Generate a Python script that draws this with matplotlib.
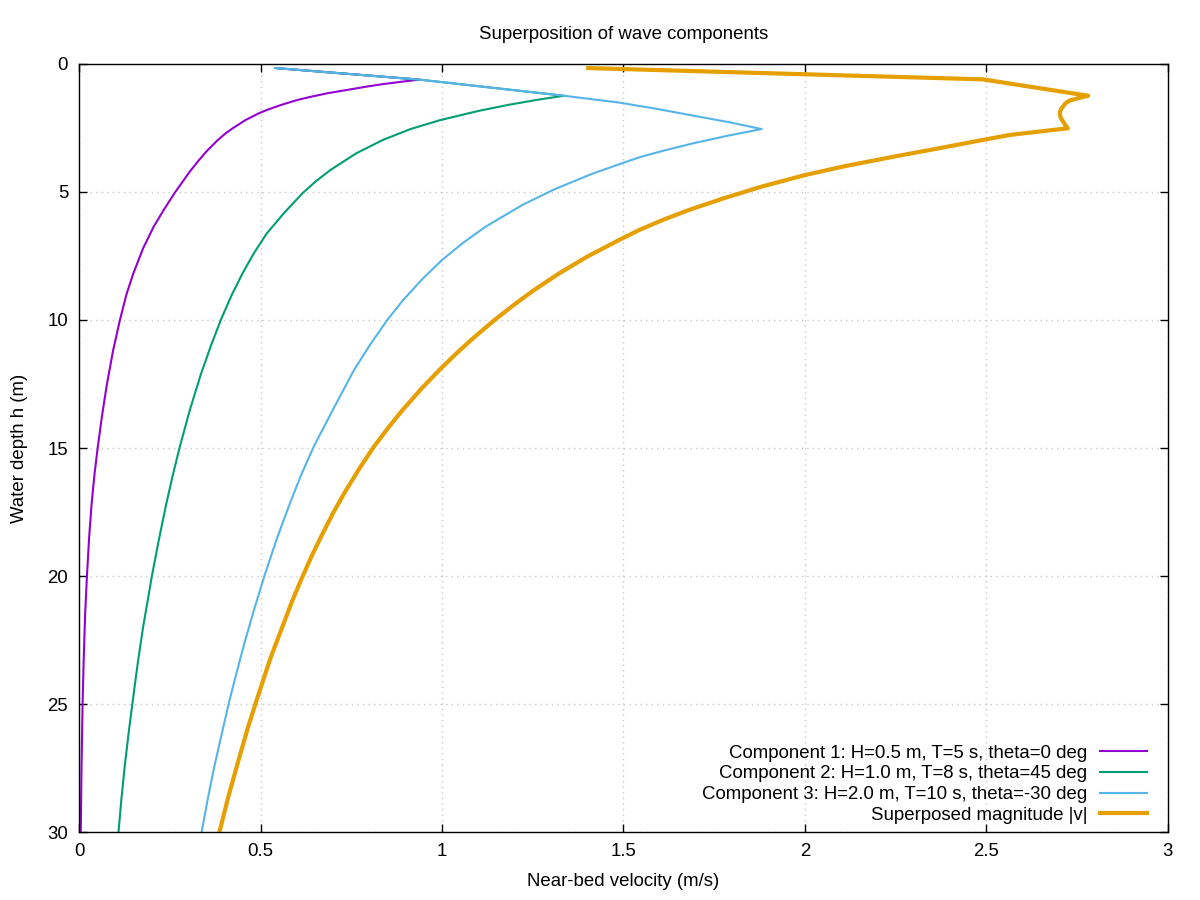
import matplotlib
matplotlib.use('Agg')
import matplotlib.pyplot as plt

# values: depth h (m) and near-bed velocity (m/s)
c1_depth = [0.17, 0.62, 0.70, 0.80, 0.90, 1.00, 1.15, 1.30, 1.42, 1.60, 1.80, 1.94, 2.20,
            2.50, 2.72, 3.00, 3.40, 3.76, 4.20, 4.60, 5.06, 5.70, 6.36, 7.20, 8.18, 9.0,
            10.0, 11.2, 12.6, 13.8, 14.95, 16.0, 17.16, 18.5, 20.0, 21.5, 23.3, 25.0,
            27.5, 30.0]
c1_vel = [0.541, 0.937, 0.890, 0.835, 0.789, 0.748, 0.685, 0.635, 0.600, 0.558, 0.518, 0.494, 0.458,
          0.425, 0.403, 0.380, 0.352, 0.330, 0.305, 0.285, 0.262, 0.233, 0.205, 0.176, 0.149, 0.130,
          0.112, 0.093, 0.075, 0.062, 0.051, 0.042, 0.034, 0.027, 0.021, 0.016, 0.012, 0.009,
          0.006, 0.004]

c2_depth = [0.17, 0.62, 1.25, 1.40, 1.61, 1.85, 2.20, 2.55, 2.98, 3.50, 4.15, 4.60, 5.06,
            5.80, 6.62, 7.40, 8.18, 9.0, 10.0, 11.0, 12.08, 13.5, 14.95, 16.1, 17.29, 18.6,
            20.0, 21.0, 21.97, 23.3, 24.57, 26.0, 27.44, 28.7, 30.0]
c2_vel = [0.541, 0.937, 1.336, 1.266, 1.181, 1.098, 0.995, 0.913, 0.836, 0.763, 0.692, 0.651, 0.615,
          0.566, 0.517, 0.481, 0.450, 0.421, 0.390, 0.363, 0.336, 0.305, 0.277, 0.257, 0.238, 0.219,
          0.200, 0.188, 0.176, 0.162, 0.150, 0.137, 0.125, 0.116, 0.108]

c3_depth = [0.17, 0.62, 1.25, 1.52, 1.77, 2.02, 2.28, 2.55, 2.80, 3.11, 3.40, 3.63, 3.89,
            4.30, 4.90, 5.50, 6.36, 7.00, 7.66, 8.40, 9.22, 10.0, 11.0, 11.96, 13.4, 14.95,
            16.1, 17.29, 18.6, 20.0, 21.3, 22.62, 23.8, 24.96, 26.2, 27.44, 28.7, 30.0]
c3_vel = [0.541, 0.937, 1.336, 1.490, 1.595, 1.690, 1.790, 1.881, 1.791, 1.691, 1.609, 1.549, 1.495,
          1.413, 1.310, 1.223, 1.120, 1.057, 1.000, 0.946, 0.893, 0.849, 0.800, 0.757, 0.703, 0.646,
          0.610, 0.577, 0.543, 0.510, 0.482, 0.455, 0.433, 0.412, 0.392, 0.372, 0.354, 0.337]

sup_depth = [0.17, 0.61, 1.25, 1.35, 1.44, 1.55, 1.74, 1.88, 2.0, 2.13, 2.26, 2.40, 2.52,
             2.78, 2.95, 3.30, 3.63, 4.00, 4.34, 4.80, 5.25, 5.70, 6.10, 6.50, 6.88, 7.53,
             8.20, 8.83, 9.40, 10.0, 10.72, 11.3, 11.96, 12.7, 13.52, 14.2, 14.95, 15.8,
             16.77, 17.5, 18.33, 19.2, 20.09, 21.0, 21.97, 23.2, 24.57, 25.9, 27.18, 28.6, 30.0]
sup_vel = [1.403, 2.490, 2.781, 2.752, 2.730, 2.718, 2.708, 2.703, 2.703, 2.706, 2.712, 2.718, 2.725,
           2.565, 2.500, 2.370, 2.244, 2.110, 2.002, 1.880, 1.777, 1.682, 1.608, 1.542, 1.488, 1.400,
           1.321, 1.254, 1.199, 1.145, 1.085, 1.040, 0.992, 0.942, 0.891, 0.852, 0.812, 0.772,
           0.730, 0.701, 0.671, 0.641, 0.613, 0.586, 0.560, 0.527, 0.495, 0.465, 0.439, 0.411, 0.386]

labels = ['Component 1: H=0.5 m, T=5 s, theta=0 deg',
          'Component 2: H=1.0 m, T=8 s, theta=45 deg',
          'Component 3: H=2.0 m, T=10 s, theta=-30 deg',
          'Superposed magnitude |v|']
colors = ['#9400D3', '#009E73', '#56B4E9', '#E69F00']

plt.rcParams['font.family'] = ['Liberation Sans', 'DejaVu Sans']
plt.rcParams['font.size'] = 13.4

fig = plt.figure(figsize=(12, 9), dpi=100)
ax = fig.add_axes([0.0661, 0.0752, 0.9069, 0.854])

ax.plot(c1_vel, c1_depth, color=colors[0], lw=1.5, label=labels[0])
ax.plot(c2_vel, c2_depth, color=colors[1], lw=1.5, label=labels[1])
ax.plot(c3_vel, c3_depth, color=colors[2], lw=1.5, label=labels[2])
ax.plot(sup_vel, sup_depth, color=colors[3], lw=3, label=labels[3])

ax.set_xlim(0, 3)
ax.set_ylim(30, 0)
ax.set_xticks([0, 0.5, 1, 1.5, 2, 2.5, 3])
ax.set_xticklabels(['0', '0.5', '1', '1.5', '2', '2.5', '3'])
ax.set_yticks([0, 5, 10, 15, 20, 25, 30])
ax.tick_params(direction='in', top=True, right=True, length=6, width=1)
ax.tick_params(axis='x', pad=8)
ax.tick_params(axis='y', pad=8)
ax.grid(True, color='#c8c8c8', linestyle=(0, (1, 3)), lw=1)
for s in ax.spines.values():
    s.set_linewidth(1)

ax.set_xlabel('Near-bed velocity (m/s)', labelpad=9)
ax.set_ylabel('Water depth h (m)', labelpad=14)
ax.set_title('Superposition of wave components', fontsize=13.4, pad=18)

ax.legend(loc='lower right', bbox_to_anchor=(0.981, 0.011), frameon=False, markerfirst=False,
          handlelength=2.5, labelspacing=0.2, handletextpad=0.7, borderaxespad=0, borderpad=0)

fig.savefig('out.png', dpi=100)
plt.close()
